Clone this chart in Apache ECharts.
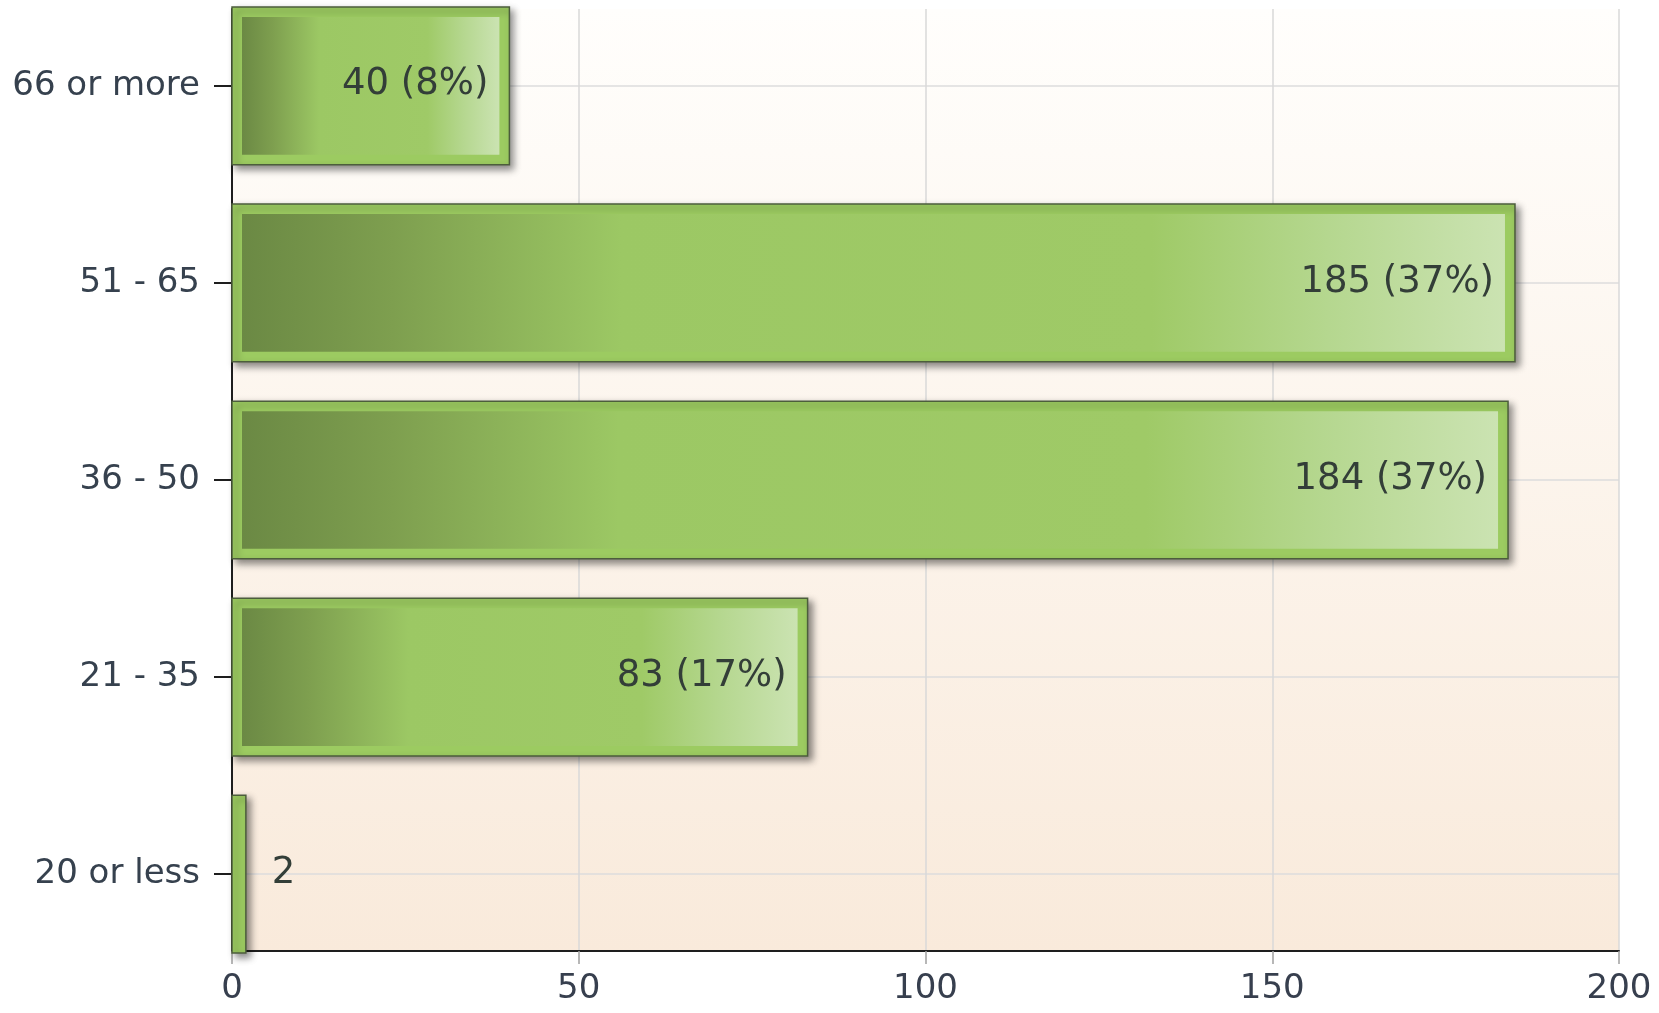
<!DOCTYPE html>
<html>
<head>
<meta charset="utf-8">
<script src="https://cdn.jsdelivr.net/npm/echarts@6/dist/echarts.min.js"></script>
<style>
  html, body { margin: 0; padding: 0; background: #ffffff; }
  #chart { width: 1659px; height: 1013px; }
</style>
</head>
<body>
<div id="chart"></div>
<script>
// ---- data (bottom to top) ----
var categories = ["20 or less", "21 - 35", "36 - 50", "51 - 65", "66 or more"];
var counts = [2, 83, 184, 185, 40];
var valueLabels = ["2", "83 (17%)", "184 (37%)", "185 (37%)", "40 (8%)"];
var xTicks = [0, 50, 100, 150, 200];
var catIndex = categories.map(function (c, i) { return i; });

var chart = echarts.init(document.getElementById('chart'), null, { renderer: 'canvas' });

var FONT = '"DejaVu Sans", Verdana, sans-serif';

function renderBar(params, api) {
  var v = api.value(0);
  var idx = api.value(1);
  var p0 = api.coord([0, idx]);
  var p1 = api.coord([v, idx]);
  var h = api.size([0, 0.8])[1];
  var x = p0[0];
  var w = p1[0] - p0[0];
  var y = p0[1] - h / 2;
  var inset = 10;
  var children = [];
  children.push({
    type: 'rect',
    shape: { x: x, y: y, width: w, height: h },
    style: {
      fill: '#9ccb61',
      stroke: '#4c5d3c',
      lineWidth: 1.5,
      shadowColor: 'rgba(0,0,0,0.45)',
      shadowBlur: 7,
      shadowOffsetX: 4,
      shadowOffsetY: 4
    }
  });
  if (w > inset * 2 + 4) {
    children.push({
      type: 'rect',
      shape: { x: x + inset, y: y + inset, width: w - inset * 2, height: h - inset * 2 },
      style: {
        fill: new echarts.graphic.LinearGradient(0, 0, 1, 0, [
          { offset: 0, color: '#6b8944' },
          { offset: 0.12, color: '#7e9f4f' },
          { offset: 0.3, color: '#9cc864' },
          { offset: 0.72, color: '#9fca67' },
          { offset: 0.86, color: '#b5d78f' },
          { offset: 1, color: '#cbe3b2' }
        ])
      }
    });
  }
  var txt = valueLabels[params.dataIndex];
  var inside = w > 120;
  children.push({
    type: 'text',
    style: {
      text: txt,
      x: inside ? p1[0] - 21 : p1[0] + 26,
      y: p0[1] - 1,
      align: inside ? 'right' : 'left',
      verticalAlign: 'middle',
      fill: '#333e38',
      font: '37px ' + FONT
    }
  });
  return { type: 'group', children: children };
}

var option = {
  animation: false,
  backgroundColor: '#ffffff',
  grid: {
    left: 232,
    right: 40,
    top: 9,
    bottom: 62,
    outerBoundsMode: 'none',
    containLabel: false,
    show: true,
    borderWidth: 0,
    backgroundColor: new echarts.graphic.LinearGradient(0, 0, 0, 1, [
      { offset: 0, color: '#fffefc' },
      { offset: 1, color: '#f9eadb' }
    ])
  },
  xAxis: {
    type: 'value',
    min: 0,
    max: 200,
    interval: 50,
    axisLine: { show: true, onZero: false, lineStyle: { color: '#1e1e1e', width: 2 } },
    axisTick: { show: true, length: 13, lineStyle: { color: '#a0a0a0', width: 1.5 } },
    axisLabel: {
      margin: 21,
      fontSize: 34,
      fontFamily: FONT,
      color: '#373f4e',
      customValues: xTicks
    },
    splitLine: { show: true, lineStyle: { color: '#d8d8d8', width: 1.5 } }
  },
  yAxis: {
    type: 'value',
    min: -0.39,
    max: 4.39,
    axisLine: { show: true, onZero: false, lineStyle: { color: '#1e1e1e', width: 2 } },
    axisTick: { show: true, length: 18, customValues: catIndex, lineStyle: { color: '#1e1e1e', width: 2 } },
    axisLabel: {
      margin: 32,
      fontSize: 34,
      fontFamily: FONT,
      color: '#36414e',
      padding: [3, 0, 0, 0],
      customValues: catIndex,
      formatter: function (val) { return categories[Math.round(val)]; }
    },
    splitLine: { show: true, customValues: catIndex, lineStyle: { color: '#dcdcdc', width: 1.5 } }
  },
  series: [{
    type: 'custom',
    renderItem: renderBar,
    encode: { x: 0, y: 1 },
    clip: false,
    data: counts.map(function (c, i) { return [c, catIndex[i]]; })
  }]
};
chart.setOption(option);
</script>
</body>
</html>
